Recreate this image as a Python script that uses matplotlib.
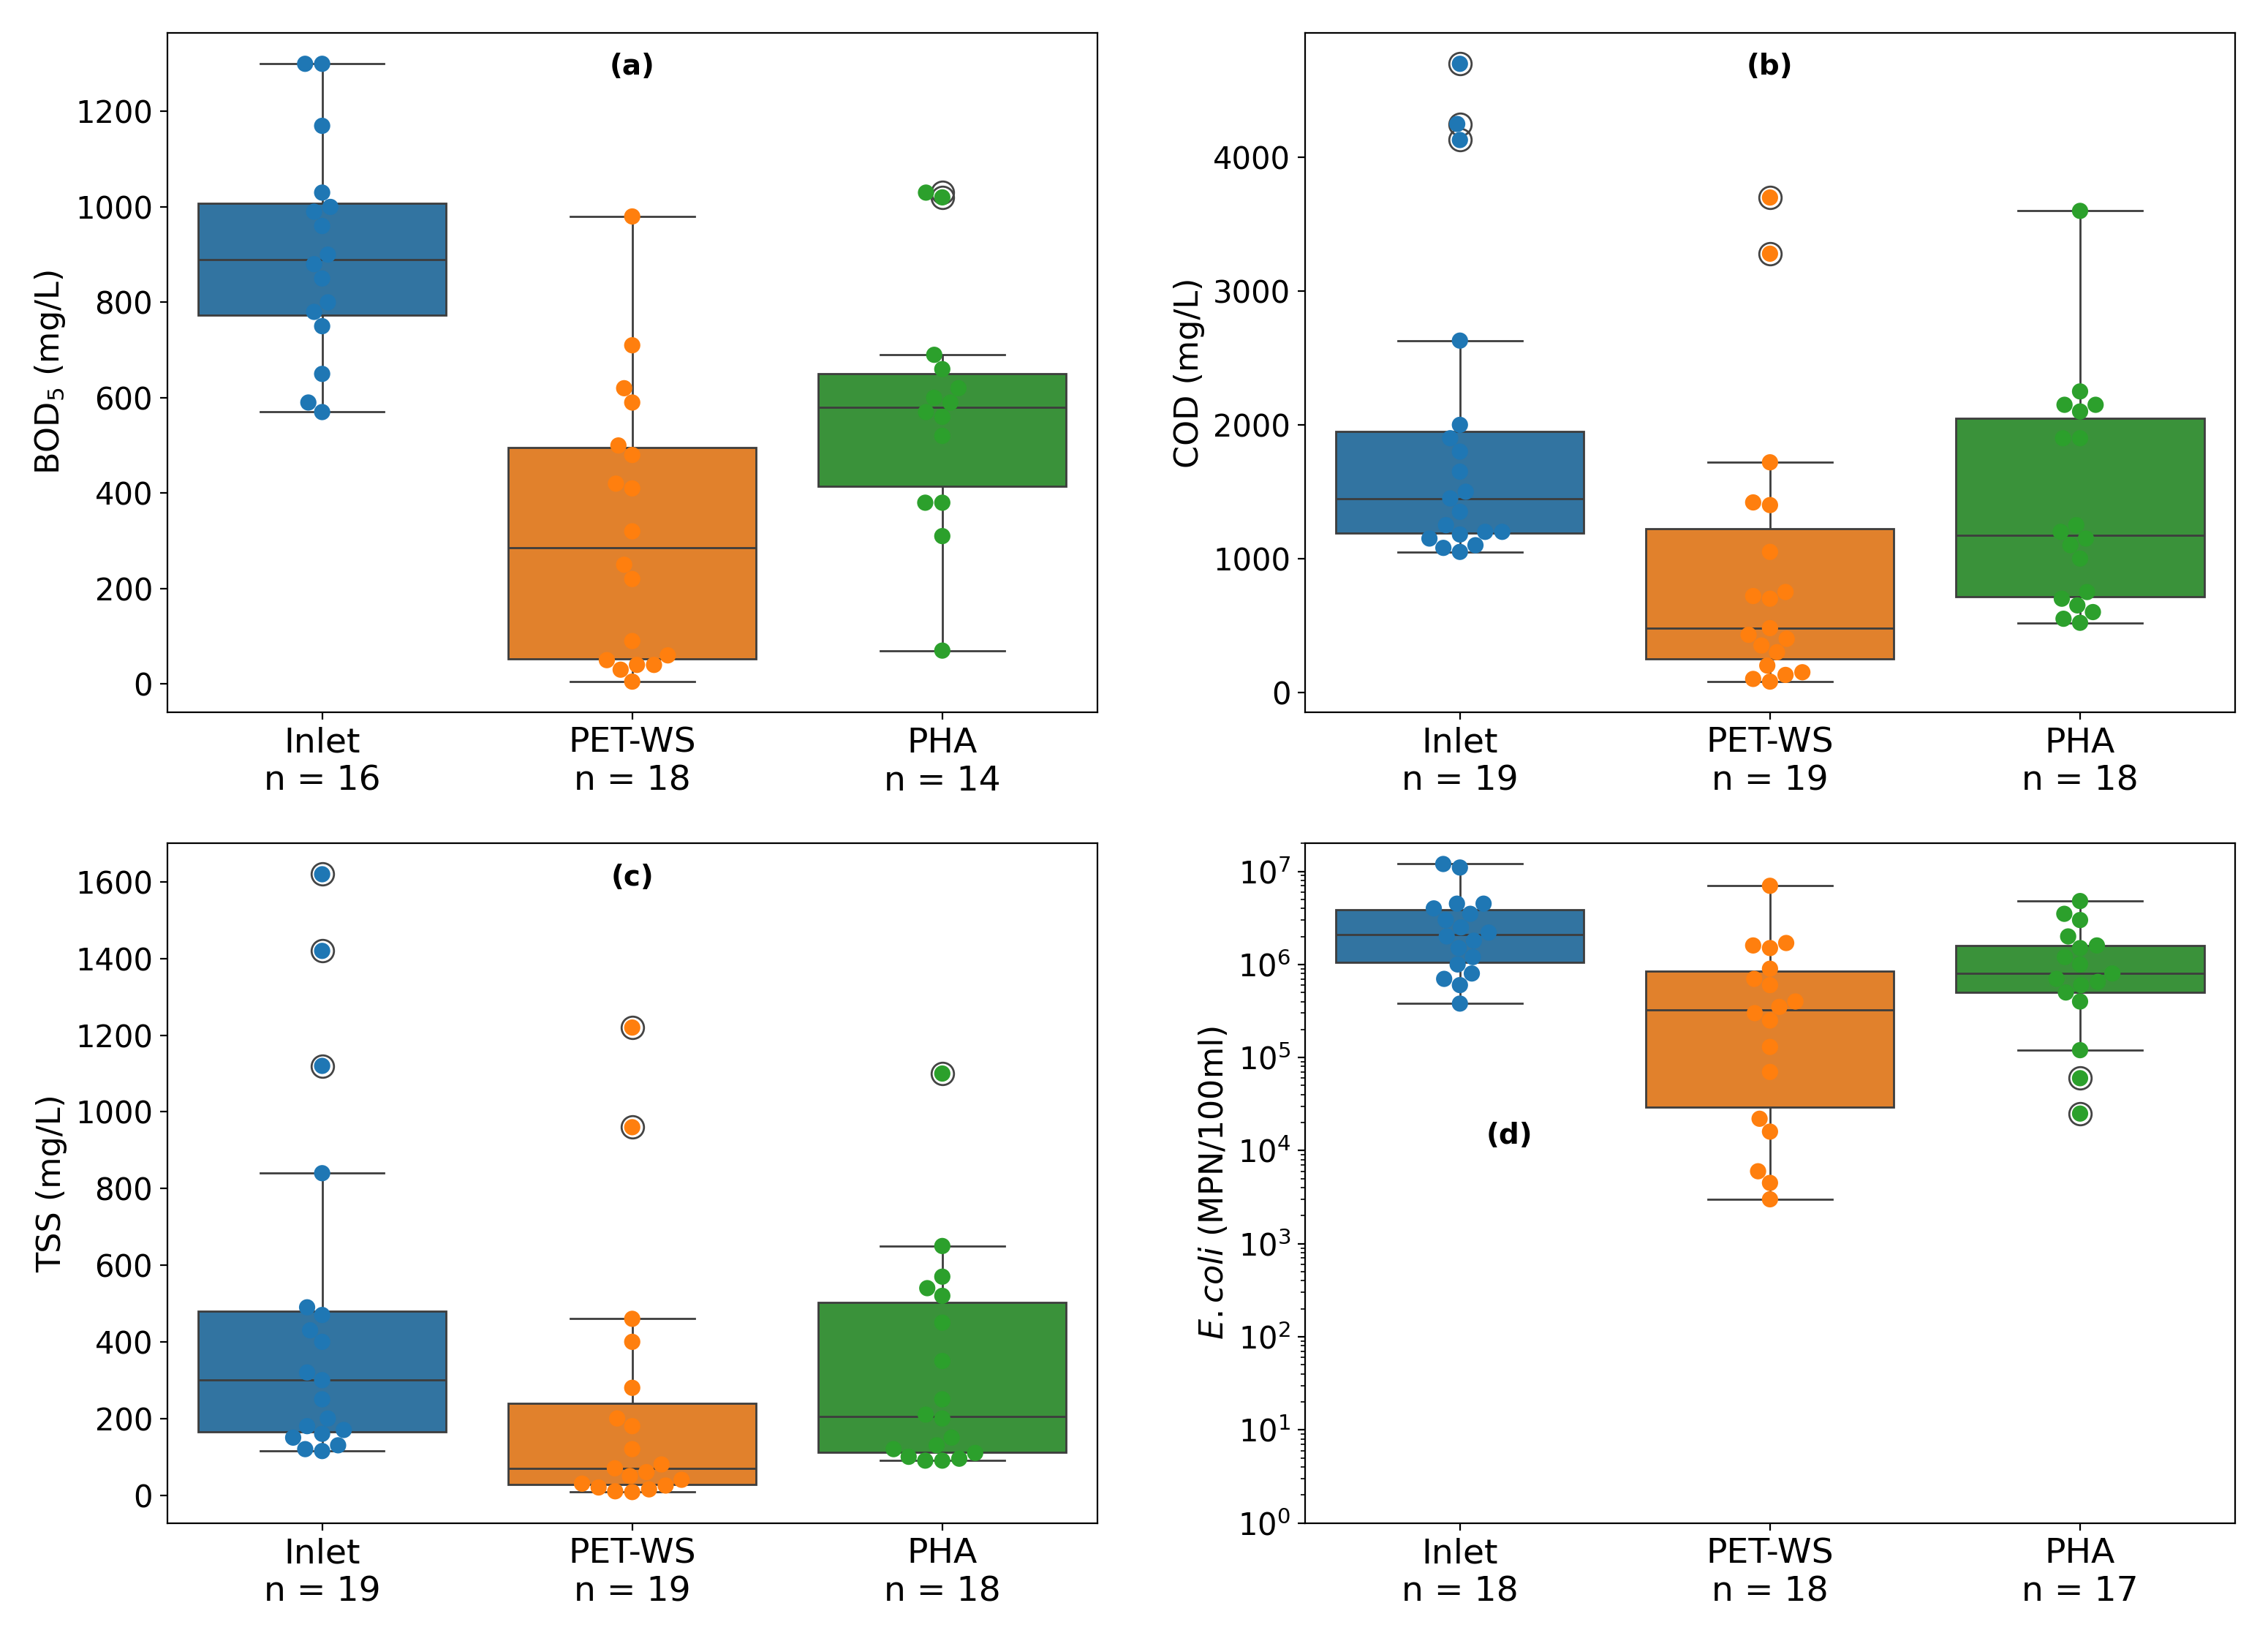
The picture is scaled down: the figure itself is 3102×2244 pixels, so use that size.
import numpy as np
import pandas as pd
import matplotlib
matplotlib.use("Agg")
import matplotlib.pyplot as plt
import seaborn as sns

groups = ["Inlet", "PET-WS", "PHA"]
colors = ["#1f77b4", "#ff7f0e", "#2ca02c"]

bod_inlet = [1300, 1300, 1170, 1030, 1000, 990, 960, 900, 880, 850, 800, 780, 750, 650, 590, 570]
bod_pet = [980, 710, 620, 590, 500, 480, 420, 410, 320, 250, 220, 90, 60, 50, 40, 40, 30, 5]
bod_pha = [1030, 1020, 690, 660, 620, 600, 590, 570, 560, 520, 380, 380, 310, 70]

cod_inlet = [4700, 4250, 4130, 2630, 2000, 1900, 1800, 1650, 1500, 1450, 1350, 1250, 1200, 1200,
             1180, 1150, 1100, 1080, 1050]
cod_pet = [3700, 3280, 1720, 1420, 1400, 1050, 750, 720, 700, 480, 430, 400, 350, 300, 200, 150, 130, 100, 80]
cod_pha = [3600, 2250, 2150, 2150, 2100, 1900, 1900, 1250, 1200, 1150, 1100, 1000, 750, 700, 650, 600, 550, 520]

tss_inlet = [1620, 1420, 1120, 840, 490, 470, 430, 400, 320, 300, 250, 200, 180, 170, 160, 150, 130, 120, 115]
tss_pet = [1220, 960, 460, 400, 280, 200, 180, 120, 80, 70, 60, 50, 40, 30, 25, 20, 15, 10, 8]
tss_pha = [1100, 650, 570, 540, 520, 450, 350, 250, 210, 200, 150, 130, 120, 110, 100, 95, 90, 90]

ecoli_inlet = [1.2e7, 1.1e7, 4.5e6, 4.5e6, 4e6, 3.5e6, 3e6, 2.5e6, 2.2e6, 2e6, 1.8e6, 1.5e6,
               1.2e6, 1e6, 8e5, 7e5, 6e5, 3.8e5]
ecoli_pet = [7e6, 1.7e6, 1.6e6, 1.5e6, 9e5, 7e5, 6e5, 4e5, 3.5e5, 3e5, 2.5e5, 1.3e5, 7e4,
             2.2e4, 1.6e4, 6e3, 4.5e3, 3e3]
ecoli_pha = [4.8e6, 3.5e6, 3e6, 2e6, 1.6e6, 1.5e6, 1.2e6, 1e6, 8e5, 7e5, 6.5e5, 6e5, 5e5,
             4e5, 1.2e5, 6e4, 2.5e4]

panels = [
    ("(a)", "BOD$_5$ (mg/L)", [bod_inlet, bod_pet, bod_pha], False, (0.5, 0.95)),
    ("(b)", "COD (mg/L)", [cod_inlet, cod_pet, cod_pha], False, (0.5, 0.95)),
    ("(c)", "TSS (mg/L)", [tss_inlet, tss_pet, tss_pha], False, (0.5, 0.95)),
    ("(d)", r"$\it{E. coli}$ (MPN/100ml)", [ecoli_inlet, ecoli_pet, ecoli_pha], True, (0.22, 0.57)),
]

plt.rcParams["font.size"] = 15
fig, axes = plt.subplots(2, 2, figsize=(15.51, 11.22), dpi=200)

for ax, (tag, ylab, vals, logy, tpos) in zip(axes.flat, panels):
    df = pd.DataFrame({
        "group": np.repeat(groups, [len(v) for v in vals]),
        "value": np.concatenate(vals),
    })
    sns.boxplot(data=df, x="group", y="value", hue="group", palette=colors, ax=ax,
                log_scale=logy, legend=False, width=0.8,
                flierprops=dict(markersize=11, markeredgecolor="#444444"))
    sns.swarmplot(data=df, x="group", y="value", hue="group", palette=colors, ax=ax,
                  size=8, legend=False)
    labels = [f"{g}\nn = {len(v)}" for g, v in zip(groups, vals)]
    ax.set_xticks(range(3))
    ax.set_xticklabels(labels, fontsize=17)
    ax.set_xlabel("")
    ax.set_ylabel(ylab, fontsize=16)
    ax.text(tpos[0], tpos[1], tag, transform=ax.transAxes, ha="center", va="center",
            fontsize=14, fontweight="bold")
    if logy:
        ax.set_ylim(1, 2e7)
        ax.set_yticks([10.0 ** k for k in range(8)])

plt.tight_layout(h_pad=1.5, w_pad=2.5)
plt.savefig("out.png", dpi=200)
